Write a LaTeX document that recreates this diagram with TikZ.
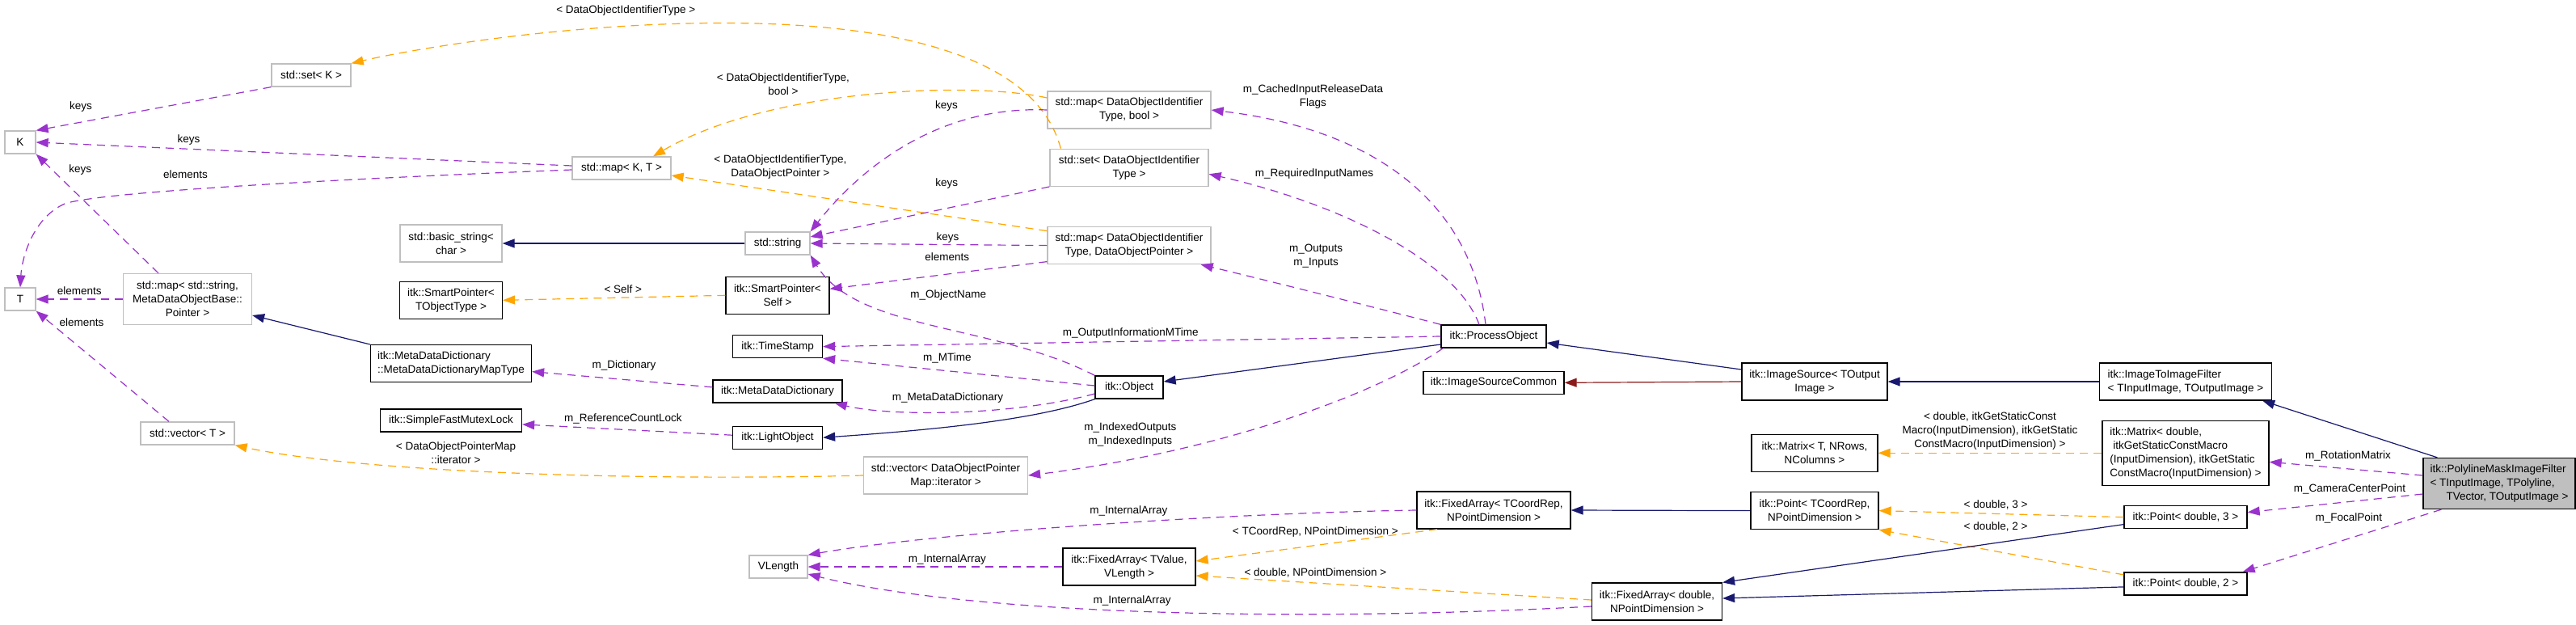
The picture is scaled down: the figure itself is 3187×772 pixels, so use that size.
\documentclass[tikz,border=0pt]{standalone}
\usepackage{fontspec}
\setmainfont{Liberation Sans}
\usepackage{xcolor}
\usepackage{tikz}
\usetikzlibrary{arrows.meta,positioning}

\definecolor{usepurple}{HTML}{9A32CD}
\definecolor{tmplorange}{HTML}{FFA500}
\definecolor{inhblue}{HTML}{191970}
\definecolor{privred}{HTML}{8B1A1A}
\definecolor{extgray}{HTML}{BFBFBF}
\newcommand{\dxfont}{\fontsize{13.5}{17}\selectfont}

\begin{document}
\begin{tikzpicture}[x=1pt, y=-1pt]
    % Styles
    \tikzstyle{cls} = [rectangle, draw=black, line width=1.3pt, fill=white, font=\dxfont, align=center, minimum height=28pt, inner xsep=4pt, inner ysep=2pt]
    \tikzstyle{extcls} = [cls, draw=extgray]
    \tikzstyle{focus} = [cls, fill=extgray, align=left]
    \tikzstyle{tall2} = [minimum height=46pt]
    \tikzstyle{tall3} = [minimum height=63pt]
    \tikzstyle{tall4} = [minimum height=80pt]
    \tikzstyle{member} = [draw=usepurple, line width=1.2pt, dash pattern=on 10pt off 7pt, -{Triangle[length=15pt,width=11pt]}]
    \tikzstyle{templ} = [draw=tmplorange, line width=1.2pt, dash pattern=on 10pt off 7pt, -{Triangle[length=15pt,width=11pt]}]
    \tikzstyle{inherit} = [draw=inhblue, line width=1.2pt, -{Triangle[length=15pt,width=11pt]}]
    \tikzstyle{privinh} = [inherit, draw=privred]
    \tikzstyle{elabel} = [font=\dxfont, align=center, inner sep=0pt]

    \useasboundingbox (0,0) rectangle (3187,772);

    % Nodes
    \node [extcls, minimum width=38pt] (kk) at (25,176) {K};
    \node [extcls, minimum width=38pt] (tt) at (25,370) {T};
    \node [extcls, minimum width=98pt] (setk) at (385,93) {std::set< K >};
    \node [extcls, minimum width=122pt] (mapkt) at (769,208) {std::map< K, T >};
    \node [extcls, tall3, minimum width=159pt] (mapstr) at (232,370) {std::map< std::string,\\MetaDataObjectBase::\\Pointer >};
    \node [extcls, minimum width=116pt] (vect) at (232,536) {std::vector< T >};
    \node [extcls, tall2, minimum width=126pt] (bstr) at (558,301) {std::basic\_string<\\char >};
    \node [cls, tall2, minimum width=127pt, below=23pt of bstr] (sptype) {itk::SmartPointer<\\TObjectType >};
    \node [cls, tall2, minimum width=199pt, align=left, below=31pt of sptype] (mdmap) {itk::MetaDataDictionary\\::MetaDataDictionaryMapType};
    \node [cls, minimum width=175pt, below=32pt of mdmap] (mutex) {itk::SimpleFastMutexLock};
    \node [extcls, minimum width=80pt] (strg) at (962,301) {std::string};
    \node [cls, tall2, minimum width=128pt, below=26pt of strg] (spself) {itk::SmartPointer<\\Self >};
    \node [cls, minimum width=111pt, below=25pt of spself] (tstamp) {itk::TimeStamp};
    \node [cls, minimum width=160pt, below=26pt of tstamp] (mdd) {itk::MetaDataDictionary};
    \node [cls, minimum width=111pt, below=28pt of mdd] (light) {itk::LightObject};
    \node [extcls, minimum width=72pt] (vlen) at (963,701) {VLength};
    \node [extcls, tall2, minimum width=203pt] (vecdop) at (1170,588) {std::vector< DataObjectPointer\\Map::iterator >};
    \node [extcls, tall2, minimum width=202pt] (mapbool) at (1397,136) {std::map< DataObjectIdentifier\\Type, bool >};
    \node [extcls, tall2, minimum width=196pt, below=24pt of mapbool] (setid) {std::set< DataObjectIdentifier\\Type >};
    \node [extcls, tall2, minimum width=202pt, below=49pt of setid] (mapdop) {std::map< DataObjectIdentifier\\Type, DataObjectPointer >};
    \node [cls, minimum width=84pt] (obj) at (1397,479) {itk::Object};
    \node [cls, tall2, minimum width=164pt] (fatv) at (1397,701) {itk::FixedArray< TValue,\\VLength >};
    \node [cls, minimum width=130pt] (proc) at (1848,416) {itk::ProcessObject};
    \node [cls, minimum width=174pt, below=28pt of proc] (isc) {itk::ImageSourceCommon};
    \node [cls, tall2, minimum width=190pt] (facr) at (1848,631) {itk::FixedArray< TCoordRep,\\NPointDimension >};
    \node [cls, tall2, minimum width=161pt] (fadb) at (2050,744) {itk::FixedArray< double,\\NPointDimension >};
    \node [cls, tall2, minimum width=180pt] (isrc) at (2245,472) {itk::ImageSource< TOutput\\Image >};
    \node [cls, tall2, minimum width=156pt, below=41pt of isrc] (matT) {itk::Matrix< T, NRows,\\NColumns >};
    \node [cls, tall2, minimum width=158pt, below=24pt of matT] (ptcr) {itk::Point< TCoordRep,\\NPointDimension >};
    \node [cls, tall2, minimum width=213pt, align=left] (itoi) at (2704,472) {itk::ImageToImageFilter\\< TInputImage, TOutputImage >};
    \node [cls, tall4, minimum width=206pt, align=left, below=24pt of itoi] (matd) {itk::Matrix< double,\\\hspace*{4pt}itkGetStaticConstMacro\\(InputDimension), itkGetStatic\\ConstMacro(InputDimension) >};
    \node [cls, minimum width=152pt, below=24pt of matd] (pt3) {itk::Point< double, 3 >};
    \node [cls, minimum width=152pt, below=53pt of pt3] (pt2) {itk::Point< double, 2 >};
    \node [focus, tall3, minimum width=188pt] (poly) at (3092,598) {itk::PolylineMaskImageFilter\\< TInputImage, TPolyline,\\\hspace*{20pt}TVector, TOutputImage >};

    % Edges
    \draw [member] (setk.south west) -- node[elabel, pos=0.81, yshift=19pt] {keys} (kk.north east);
    \draw [member] ([yshift=3pt]mapkt.west) -- node[elabel, pos=0.715, yshift=11pt] {keys} (kk.east);
    \draw [member] ([yshift=-2pt]mapkt.west) .. controls (400,222) and (120,238) .. node[elabel, pos=0.6, yshift=19pt] {elements} (80,252) .. controls (40,270) and (27,320) .. (tt.north);
    \draw [member] ([xshift=-36pt]mapstr.north) -- node[elabel, pos=0.87, xshift=35pt] {keys} (kk.south east);
    \draw [member] (mapstr.west) -- node[elabel, midway, yshift=10pt] {elements} (tt.east);
    \draw [member] ([xshift=-23pt]vect.north) -- node[elabel, pos=0.9, xshift=40pt] {elements} (tt.south east);
    \draw [templ] ([xshift=14pt]setid.north west) .. controls (1250,-50) and (600,40) .. node[elabel, pos=0.62, yshift=20pt] {< DataObjectIdentifierType >} (setk.north east);
    \draw [templ] ([yshift=15pt]mapbool.west) .. controls (1200,100) and (950,110) .. node[elabel, pos=0.68, yshift=30pt] {< DataObjectIdentifierType,\\bool >} ([xshift=39pt]mapkt.north);
    \draw [templ] ([yshift=18pt]mapdop.west) -- node[elabel, pos=0.71, yshift=30pt] {< DataObjectIdentifierType,\\DataObjectPointer >} ([yshift=-9pt]mapkt.east);
    \draw [member] (mapbool.west) .. controls (1150,130) and (1055,220) .. node[elabel, pos=0.32, yshift=25pt] {keys} (strg.north east);
    \draw [member] (setid.south west) -- node[elabel, pos=0.43, yshift=31pt] {keys} ([yshift=8pt]strg.east);
    \draw [member] (mapdop.west) -- node[elabel, pos=0.42, yshift=9pt] {keys} (strg.east);
    \draw [member] ([yshift=-20pt]mapdop.west) -- node[elabel, pos=0.46, yshift=21pt] {elements} ([yshift=8pt]spself.east);
    \draw [inherit] (strg.west) -- (bstr.east);
    \draw [templ] (spself.west) -- node[elabel, pos=0.46, yshift=10pt] {< Self >} (sptype.east);
    \draw [member] (obj.north west) .. controls (1230,400) and (1060,410) .. node[elabel, pos=0.45, yshift=41pt] {m\_ObjectName} (strg.south east);
    \draw [inherit] (mdmap.north west) -- ([yshift=-20pt]mapstr.east);
    \draw [member] ([yshift=5pt]mdd.west) -- node[elabel, pos=0.49, yshift=17pt] {m\_Dictionary} ([yshift=-10pt]mdmap.east);
    \draw [member] ([yshift=3pt]light.west) -- node[elabel, pos=0.52, yshift=13pt] {m\_ReferenceCountLock} ([yshift=-5pt]mutex.east);
    \draw [templ] (vecdop.west) .. controls (800,595) and (450,585) .. node[elabel, pos=0.59, yshift=21pt] {< DataObjectPointerMap\\::iterator >} (vect.south east);
    \draw [member] (proc.west) -- node[elabel, pos=0.502, yshift=10pt] {m\_OutputInformationMTime} (tstamp.east);
    \draw [member] ([yshift=2pt]obj.west) -- node[elabel, pos=0.543, yshift=16pt] {m\_MTime} (tstamp.south east);
    \draw [member] ([yshift=-8pt]obj.west) .. controls (1250,515) and (1100,515) .. node[elabel, pos=0.52, yshift=18pt] {m\_MetaDataDictionary} ([xshift=-10pt]mdd.south east);
    \draw [inherit] (obj.south west) .. controls (1280,520) and (1150,532) .. (light.east);
    \draw [inherit] ([yshift=-10pt]proc.west) -- ([yshift=7pt]obj.east);
    \draw [member] ([xshift=3pt]proc.south west) .. controls (1700,490) and (1500,560) .. node[elabel, pos=0.81, yshift=30pt] {m\_IndexedOutputs\\m\_IndexedInputs} (vecdop.east);
    \draw [member] ([xshift=-10pt]proc.north) .. controls (1820,250) and (1700,160) .. node[elabel, pos=0.77, yshift=43pt] {m\_CachedInputReleaseData\\Flags} (mapbool.east);
    \draw [member] ([xshift=-18pt]proc.north) .. controls (1800,320) and (1650,250) .. node[elabel, pos=0.71, yshift=39pt] {m\_RequiredInputNames} ([yshift=-8pt]setid.east);
    \draw [member] (proc.north west) .. controls (1720,385) and (1560,345) .. node[elabel, pos=0.53, yshift=46pt] {m\_Outputs\\m\_Inputs} ([xshift=-13pt]mapdop.south east);
    \draw [inherit] ([yshift=15pt]isrc.west) -- ([yshift=-8pt]proc.east);
    \draw [privinh] (isrc.west) -- (isc.east);
    \draw [inherit] (itoi.west) -- (isrc.east);
    \draw [inherit] ([xshift=18pt]poly.north west) -- ([xshift=-12pt]itoi.south east);
    \draw [member] ([yshift=10pt]poly.west) -- node[elabel, pos=0.487, yshift=16pt] {m\_RotationMatrix} ([yshift=-11pt]matd.east);
    \draw [member] ([yshift=-13pt]poly.west) -- node[elabel, pos=0.417, yshift=15pt] {m\_CameraCenterPoint} ([yshift=6pt]pt3.east);
    \draw [member] ([xshift=23pt]poly.south west) -- node[elabel, pos=0.466, yshift=25pt] {m\_FocalPoint} ([xshift=-6pt]pt2.north east);
    \draw [templ] (matd.west) -- node[elabel, midway, yshift=27pt] {< double, itkGetStaticConst\\Macro(InputDimension), itkGetStatic\\ConstMacro(InputDimension) >} (matT.east);
    \draw [templ] (pt3.west) -- node[elabel, pos=0.523, yshift=11pt] {< double, 3 >} (ptcr.east);
    \draw [templ] ([yshift=11pt]pt2.west) -- node[elabel, pos=0.523, yshift=30pt] {< double, 2 >} (ptcr.south east);
    \draw [inherit] ([yshift=-9pt]pt3.west) -- (fadb.north east);
    \draw [inherit] ([yshift=-4pt]pt2.west) -- ([yshift=4pt]fadb.east);
    \draw [inherit] (ptcr.west) -- (facr.east);
    \draw [member] (facr.west) .. controls (1500,635) and (1150,660) .. node[elabel, pos=0.43, yshift=14pt] {m\_InternalArray} (vlen.north east);
    \draw [member] (fatv.west) -- node[elabel, pos=0.4525, yshift=9pt] {m\_InternalArray} (vlen.east);
    \draw [member] ([yshift=-6pt]fadb.west) .. controls (1600,770) and (1200,760) .. node[elabel, pos=0.52, yshift=12pt] {m\_InternalArray} ([yshift=-9pt]vlen.east);
    \draw [templ] ([xshift=-70pt]facr.south) -- node[elabel, pos=0.505, yshift=17pt] {< TCoordRep, NPointDimension >} ([yshift=7pt]fatv.east);
    \draw [templ] ([yshift=2pt]fadb.west) -- node[elabel, pos=0.698, yshift=13pt] {< double, NPointDimension >} ([yshift=-11pt]fatv.east);
\end{tikzpicture}
\end{document}
